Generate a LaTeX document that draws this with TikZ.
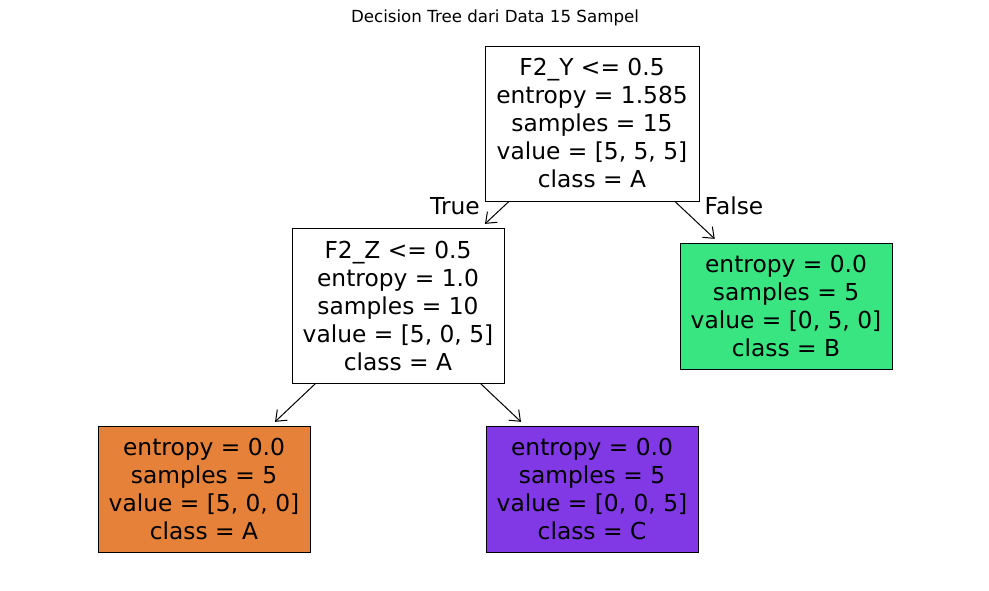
\documentclass[tikz,border=0pt]{standalone}
\usepackage{fontspec}
\setmainfont{DejaVu Sans}
\usetikzlibrary{arrows.meta}
\definecolor{leafgreen}{HTML}{39E581}
\definecolor{leaforange}{HTML}{E58139}
\definecolor{leafpurple}{HTML}{8139E5}
\tikzset{
  treebox/.style={draw=black, line width=0.75pt, inner sep=0pt, align=center,
    minimum width=212*0.75pt, font=\fontsize{17.5}{21}\selectfont},
  splitbox/.style={treebox, minimum height=155*0.75pt},
  leafbox/.style={treebox, minimum height=126*0.75pt},
  edgelabel/.style={font=\fontsize{17.5}{21}\selectfont, inner sep=0pt},
  treearrow/.style={-{Straight Barb[length=7pt,width=11pt]}, line width=0.75pt, shorten >=4pt}
}
\begin{document}
\begin{tikzpicture}[x=0.75pt,y=-0.75pt]
\useasboundingbox (0,0) rectangle (989,590);
\node[font=\fontsize{12.5}{15}\selectfont] (title) at (495,18) {Decision Tree dari Data 15 Sampel};
\node[splitbox, minimum width=214*0.75pt] (root) at (592,123.5) {F2\_Y <= 0.5\\entropy = 1.585\\samples = 15\\value = [5, 5, 5]\\class = A};
\node[splitbox] (left) at (398,305.5) {F2\_Z <= 0.5\\entropy = 1.0\\samples = 10\\value = [5, 0, 5]\\class = A};
\node[leafbox, fill=leafgreen] (right) at (786,306) {entropy = 0.0\\samples = 5\\value = [0, 5, 0]\\class = B};
\node[leafbox, fill=leaforange] (ll) at (204,489) {entropy = 0.0\\samples = 5\\value = [5, 0, 0]\\class = A};
\node[leafbox, fill=leafpurple] (lr) at (592,489) {entropy = 0.0\\samples = 5\\value = [0, 0, 5]\\class = C};
\draw[treearrow] (root) -- (left);
\draw[treearrow] (root) -- (right);
\draw[treearrow] (left) -- (ll);
\draw[treearrow] (left) -- (lr);
\node[edgelabel] (truelab) at (455,206) {True};
\node[edgelabel] (falselab) at (734,206) {False};
\end{tikzpicture}
\end{document}
